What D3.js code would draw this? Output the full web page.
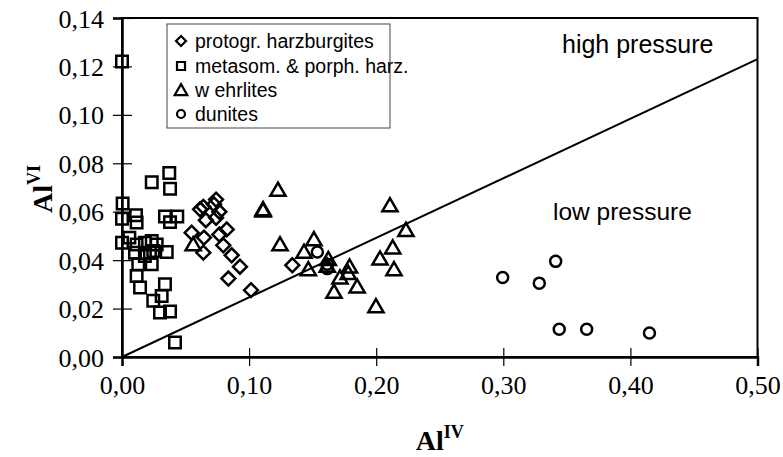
<!DOCTYPE html>
<html><head><meta charset="utf-8">
<script src="https://cdn.jsdelivr.net/npm/d3@7"></script>
<style>body{margin:0;background:#fff}svg{display:block}</style>
</head><body><svg id="c" width="783" height="457"></svg>
<script>
// ---- data ----
const xTicks = [0, 0.1, 0.2, 0.3, 0.4, 0.5];
const yTicks = [0, 0.02, 0.04, 0.06, 0.08, 0.10, 0.12, 0.14];
const seriesNames = ["protogr. harzburgites", "metasom. & porph. harz.", "w ehrlites", "dunites"];
const harzX = [0.074,0.0724,0.0614,0.064,0.0766,0.066,0.074,0.0548,0.0645,0.0824,0.0766,0.0797,0.064,0.0863,0.0928,0.0837,0.1015,0.134];
const harzY = [0.065,0.063,0.061,0.062,0.060,0.0565,0.0575,0.0513,0.0493,0.0527,0.0506,0.0461,0.0431,0.042,0.0373,0.0324,0.0276,0.0379];
const metaX = [0,0.0234,0.0372,0.0378,0.0005,0,0.011,0.0115,0.0338,0.0435,0.0378,0,0.0058,0.0115,0.0102,0.018,0.0234,0.0273,0.022,0.018,0.0246,0.0352,0.0128,0.0234,0.0115,0.0142,0.0338,0.0246,0.0312,0.0299,0.0378,0.0417];
const metaY = [0.122,0.0722,0.076,0.0695,0.0634,0.0571,0.0585,0.0555,0.058,0.058,0.0557,0.0472,0.0493,0.0465,0.0431,0.0472,0.0479,0.0465,0.0431,0.0417,0.0438,0.0434,0.0383,0.0383,0.0335,0.0287,0.030,0.0232,0.0252,0.0184,0.0188,0.006];
const wehrX = [0.056,0.1227,0.111,0.111,0.1243,0.151,0.1432,0.1466,0.1623,0.1615,0.179,0.178,0.1715,0.1668,0.185,0.1998,0.2108,0.2234,0.213,0.203,0.214];
const wehrY = [0.0465,0.069,0.061,0.0605,0.0465,0.0486,0.0434,0.0362,0.0404,0.0376,0.0373,0.0346,0.0328,0.0269,0.0291,0.0209,0.0626,0.0524,0.0452,0.0406,0.0362];
const dunX = [0.1537,0.1615,0.1615,0.2995,0.3283,0.3412,0.344,0.3656,0.415];
const dunY = [0.0434,0.0383,0.0365,0.0328,0.0305,0.0395,0.0115,0.0115,0.0099];
const boundaryX = [0, 0.5];
const boundaryY = [0, 0.123];
const regionLabels = ["high pressure", "low pressure"];

// ---- layout ----
const svg = d3.select("#c");
const L = 122, R = 757.5, T = 18, B = 357;
const x = d3.scaleLinear().domain([0, 0.5]).range([L, R]);
const y = d3.scaleLinear().domain([0, 0.14]).range([B, T]);
const fmt = d => d3.format(".2f")(d).replace(".", ",");
const serif = "'Liberation Serif','Times New Roman',serif";
const sans = "'Liberation Sans',Arial,sans-serif";

// frame
svg.append("rect").attr("x", L).attr("y", T).attr("width", R - L).attr("height", B - T)
  .attr("fill", "none").attr("stroke", "#000").attr("stroke-width", 2);

// x axis
const gx = svg.append("g").attr("transform", `translate(0,${B})`)
  .call(d3.axisBottom(x).tickValues(xTicks).tickFormat(fmt).tickSize(9).tickPadding(0));
gx.select(".domain").attr("stroke-width", 2.5);
gx.selectAll(".tick line").attr("y1", -9).attr("y2", 9).attr("stroke-width", 1.2);
gx.selectAll(".tick text").attr("font-family", serif).attr("font-size", 26).attr("fill", "#000")
  .attr("y", 0).attr("dy", 0).attr("transform", "translate(0,37)").attr("dominant-baseline", "auto");

// y axis
const gy = svg.append("g").attr("transform", `translate(${L},0)`)
  .call(d3.axisLeft(y).tickValues(yTicks).tickFormat(fmt).tickSize(9).tickPadding(0));
gy.select(".domain").attr("stroke-width", 2.5);
gy.selectAll(".tick line").attr("x1", -9).attr("x2", 10).attr("stroke-width", 1.2);
gy.selectAll(".tick text").attr("font-family", serif).attr("font-size", 26).attr("fill", "#000")
  .attr("x", -18).attr("dy", "0.35em");

// axis titles
const xt = svg.append("text").attr("x", (L + R) / 2).attr("y", 450).attr("text-anchor", "middle")
  .attr("font-family", serif).attr("font-weight", "bold").attr("font-size", 28);
xt.append("tspan").text("Al");
xt.append("tspan").attr("font-size", 18).attr("dy", -12).text("IV");

const yt = svg.append("text").attr("transform", "translate(52,189) rotate(-90)").attr("text-anchor", "middle")
  .attr("font-family", serif).attr("font-weight", "bold").attr("font-size", 28);
yt.append("tspan").text("Al");
yt.append("tspan").attr("font-size", 18).attr("dy", -12).text("VI");

// boundary line
svg.append("line").attr("x1", x(boundaryX[0])).attr("y1", y(boundaryY[0]))
  .attr("x2", x(boundaryX[1])).attr("y2", y(boundaryY[1]))
  .attr("stroke", "#000").attr("stroke-width", 2);

// symbols
const sym = {
  diamond: d3.symbol().type(d3.symbolSquare).size(96),
  square: d3.symbol().type(d3.symbolSquare).size(132),
  triangle: d3.symbol().type(d3.symbolTriangle).size(100),
  circle: d3.symbol().type(d3.symbolCircle).size(95)
};
function plot(xs, ys, kind) {
  const g = svg.append("g");
  xs.forEach((v, i) => {
    const p = g.append("path").attr("d", sym[kind]())
      .attr("fill", "none").attr("stroke", "#000").attr("stroke-width", 2.5);
    const rot = kind === "diamond" ? " rotate(45)" : "";
    const dy = kind === "triangle" ? 1.5 : 0;
    p.attr("transform", `translate(${x(v)},${y(ys[i]) + dy})${rot}`);
  });
}
plot(metaX, metaY, "square");
plot(harzX, harzY, "diamond");
plot(wehrX, wehrY, "triangle");
plot(dunX, dunY, "circle");

// region labels
svg.append("text").attr("x", 562).attr("y", 53).attr("font-family", sans).attr("font-size", 25)
  .text(regionLabels[0]);
svg.append("text").attr("x", 553).attr("y", 220).attr("font-family", sans).attr("font-size", 24.5)
  .text(regionLabels[1]);

// legend
const lg = svg.append("g");
lg.append("rect").attr("x", 167).attr("y", 24).attr("width", 223).attr("height", 104)
  .attr("fill", "#fff").attr("stroke", "#444").attr("stroke-width", 1);
const kinds = ["diamond", "square", "triangle", "circle"];
const ly = [41, 66, 90, 114];
const lsz = {diamond: 50, square: 64, triangle: 70, circle: 50};
seriesNames.forEach((n, i) => {
  const k = kinds[i];
  const s = d3.symbol().type(k === "diamond" || k === "square" ? d3.symbolSquare : k === "triangle" ? d3.symbolTriangle : d3.symbolCircle).size(lsz[k]);
  lg.append("path").attr("d", s()).attr("fill", "none").attr("stroke", "#000").attr("stroke-width", 2.2)
    .attr("transform", `translate(181,${ly[i] + (k === "triangle" ? 1.5 : 0)})${k === "diamond" ? " rotate(45)" : ""}`);
  lg.append("text").attr("x", 195).attr("y", ly[i]).attr("dy", "0.35em")
    .attr("font-family", sans).attr("font-size", 19.5).text(n);
});
</script></body></html>
